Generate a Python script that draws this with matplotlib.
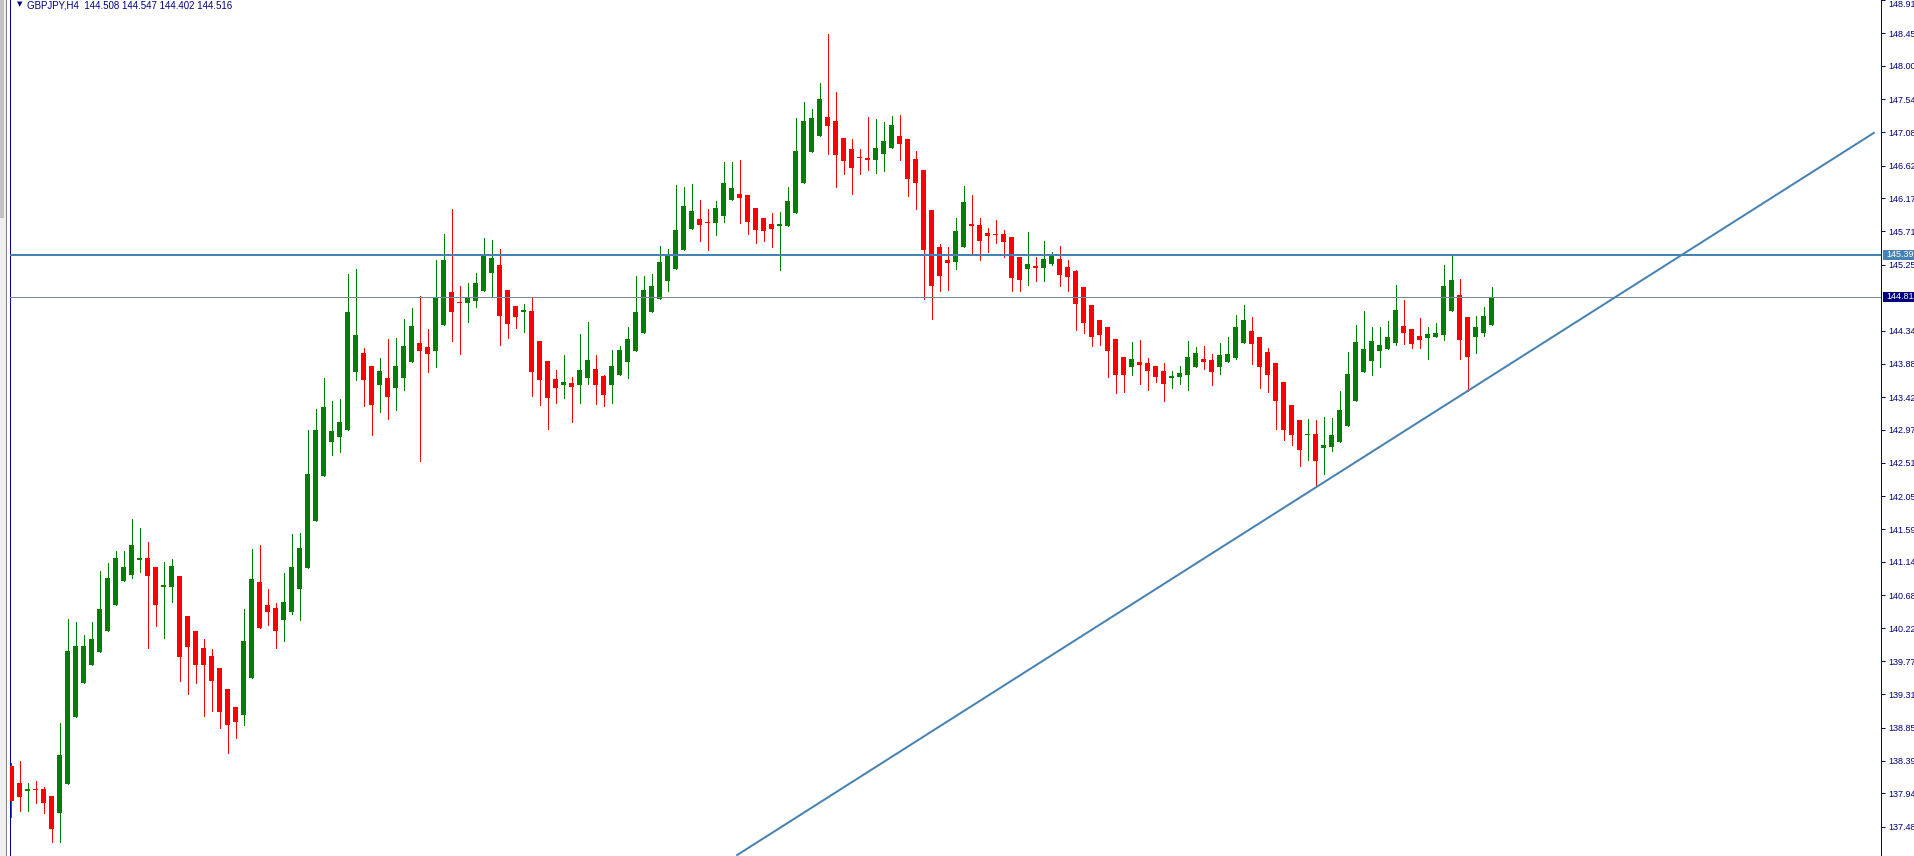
#!/usr/bin/env python3
import matplotlib
matplotlib.use("Agg")
import matplotlib.pyplot as plt
import matplotlib.transforms as mtransforms
from matplotlib.patches import Rectangle
import numpy as np

SYMBOL="GBPJPY,H4"
HEADER_OHLC="144.508 144.547 144.402 144.516"

# H4 candles, oldest first
OPEN=[138.32,138.08,137.97,138.00,138.00,137.90,137.67,138.07,138.99,139.47,139.72,139.89,140.19,140.55,140.87,140.96,141.17,141.19,141.07,140.80,
      140.80,140.95,140.39,140.19,139.95,139.84,139.67,139.38,139.13,139.03,139.53,140.86,140.54,140.50,140.34,140.45,140.76,141.05,141.70,142.33,
      142.80,142.87,142.97,143.77,144.03,143.85,143.58,143.68,143.55,143.69,143.91,144.17,144.11,144.06,144.42,144.87,144.73,144.72,144.75,144.88,
      145.14,145.25,144.90,144.68,144.59,144.61,144.20,143.92,143.67,143.59,143.61,143.59,143.69,143.81,143.71,143.59,143.72,143.90,144.05,144.31,
      144.60,144.78,145.03,145.19,145.46,145.75,145.88,145.84,145.83,145.93,146.15,146.23,146.21,146.03,145.90,145.81,145.78,145.79,145.96,146.38,
      146.81,147.03,147.29,147.24,147.00,146.85,146.73,146.73,146.70,146.78,146.87,147.03,146.99,146.71,146.56,146.01,145.50,145.31,145.29,145.50,
      145.81,145.80,145.69,145.67,145.67,145.63,145.36,145.19,145.23,145.20,145.26,145.33,145.22,145.16,144.94,144.69,144.49,144.39,144.22,143.97,
      143.84,143.90,143.89,143.85,143.78,143.69,143.70,143.72,143.84,143.95,143.93,143.84,143.91,143.96,144.17,144.33,144.25,144.04,143.89,143.63,
      143.31,143.10,142.89,142.91,142.72,142.73,142.80,143.02,143.37,143.77,143.92,144.06,144.09,144.17,144.40,144.36,144.26,144.24,144.25,144.28,
      144.61,144.83,144.53,144.25,144.31,144.42]
HIGH=[138.36,138.39,138.08,138.11,138.03,137.90,138.91,140.35,140.31,140.13,140.31,141.01,141.13,141.29,141.29,141.73,141.61,141.42,141.07,141.14,
      141.18,140.95,140.39,140.19,140.07,139.94,139.67,139.38,139.13,140.49,141.32,141.37,140.77,140.57,140.99,141.53,141.54,142.97,143.25,143.69,
      143.37,143.39,145.12,145.19,144.10,143.85,143.96,144.22,144.24,144.50,144.65,144.82,144.36,145.32,145.67,146.02,144.96,145.00,145.14,145.62,
      145.59,145.47,144.90,144.68,144.71,144.79,144.20,143.92,143.79,144.00,143.70,144.29,144.46,144.00,143.72,144.07,144.13,144.39,145.09,145.09,
      145.12,145.51,145.47,146.35,146.32,146.37,146.14,146.02,146.13,146.67,146.67,146.70,146.21,146.03,145.90,145.97,145.98,146.32,147.28,147.50,
      147.40,147.76,148.44,147.64,147.00,146.99,146.85,147.29,147.26,147.22,147.31,147.32,146.99,146.82,146.56,146.01,145.54,145.50,145.90,146.34,
      146.21,145.90,145.76,145.87,145.73,145.63,145.36,145.70,145.36,145.58,145.43,145.51,145.31,145.18,144.94,144.69,144.49,144.39,144.22,143.97,
      144.18,144.21,143.96,143.85,143.89,143.78,143.85,144.19,144.11,144.13,144.02,144.17,144.25,144.55,144.69,144.53,144.25,144.10,143.89,143.63,
      143.31,143.10,143.11,143.10,143.14,143.13,143.50,144.04,144.42,144.61,144.39,144.39,144.47,144.97,144.76,144.36,144.51,144.39,144.44,145.25,
      145.37,145.05,144.53,144.54,144.66,144.94]
LOW=[137.62,137.69,137.69,137.81,137.67,137.27,137.27,138.07,138.99,139.47,139.72,139.89,140.19,140.55,140.87,140.92,141.00,139.95,140.25,140.09,
     140.58,139.50,139.32,139.47,139.01,139.08,138.85,138.50,138.71,138.89,139.53,140.22,140.27,139.95,140.04,140.42,140.34,141.05,141.70,142.33,
     142.62,142.66,142.97,143.66,143.29,142.90,143.22,143.11,143.24,143.52,143.91,142.53,143.77,143.83,144.42,144.19,144.02,144.46,144.66,144.88,
     144.80,144.14,144.24,144.38,144.32,143.44,143.31,142.98,143.34,143.41,143.08,143.34,143.60,143.33,143.29,143.34,143.72,143.69,144.05,144.31,
     144.60,144.78,144.89,145.19,145.46,145.74,145.58,145.46,145.66,145.84,146.15,145.82,145.68,145.55,145.58,145.50,145.18,145.79,145.96,146.38,
     146.81,147.03,146.78,146.33,146.51,146.23,146.51,146.56,146.52,146.55,146.87,146.70,146.20,146.02,144.77,144.50,144.89,144.90,145.19,145.50,
     145.39,145.32,145.43,145.55,145.36,144.88,144.88,144.97,145.03,145.03,145.24,144.96,144.88,144.35,144.30,144.12,144.14,143.70,143.48,143.49,
     143.73,143.60,143.52,143.63,143.36,143.54,143.60,143.52,143.84,143.81,143.58,143.74,143.91,143.94,144.17,143.88,143.54,143.49,142.98,142.82,
     142.76,142.47,142.55,142.18,142.36,142.68,142.80,143.02,143.37,143.77,143.72,143.83,144.09,144.14,144.16,144.10,144.10,143.95,144.25,144.21,
     144.61,143.94,143.51,144.03,144.27,144.42]
CLOSE=[137.83,137.89,138.00,137.98,137.80,137.45,138.47,139.91,139.98,139.98,140.07,140.49,140.92,141.19,141.07,141.37,141.19,140.94,140.54,140.82,
       141.08,139.82,139.97,139.71,139.72,139.50,139.07,138.88,138.93,140.05,140.90,140.22,140.45,140.19,140.59,141.07,141.33,142.36,142.97,143.28,
       142.95,143.08,144.60,144.28,143.65,143.31,143.78,143.42,143.85,144.13,144.40,144.05,144.01,144.80,145.32,144.59,144.72,144.79,145.00,145.37,
       145.34,144.54,144.43,144.52,144.62,143.77,143.65,143.41,143.54,143.63,143.56,143.79,143.93,143.59,143.45,143.85,144.07,144.22,144.60,144.90,
       144.96,145.29,145.37,145.73,146.06,145.99,145.80,145.83,146.03,146.38,146.31,146.17,145.84,145.73,145.72,145.75,145.81,146.13,146.82,147.24,
       147.28,147.54,147.17,146.77,146.69,146.59,146.72,146.70,146.86,146.96,147.18,146.92,146.44,146.38,145.46,144.96,145.10,145.28,145.72,146.12,
       145.78,145.58,145.65,145.66,145.57,145.07,145.04,145.26,145.20,145.33,145.37,145.11,145.08,144.71,144.45,144.25,144.28,144.06,143.72,143.72,
       143.95,143.87,143.78,143.70,143.60,143.71,143.75,143.97,144.03,143.91,143.77,144.00,144.02,144.39,144.49,144.16,143.83,143.73,143.37,142.97,
       142.89,142.69,142.91,142.54,142.76,142.89,143.24,143.74,144.18,144.08,144.19,144.14,144.25,144.62,144.31,144.16,144.21,144.29,144.30,144.96,
       145.04,144.21,143.98,144.39,144.54,144.80]

RESISTANCE=145.39   # horizontal line
BID=144.81          # current price line
TREND_T=[90.6,232.9]        # trend line anchors (bar index)
TREND_P=[137.08,147.08]     # trend line anchors (price)
YTICKS=[148.91,148.45,148.00,147.54,147.08,146.62,146.17,145.71,145.25,144.34,143.88,143.42,142.97,142.51,
        142.05,141.59,141.14,140.68,140.22,139.77,139.31,138.85,138.39,137.94,137.48]

BULL="#008000"; BEAR="#ff0000"; NAVY="#000080"; STEEL="#4682b4"; GREY="#778899"
W,H=1915,856; PX=72/100  # one pixel in points
FS=6.5

fig=plt.figure(figsize=(W/100,H/100),dpi=100,facecolor="white")
# left scroll gutter
fig.patches.append(Rectangle((0,0),6/W,1,transform=fig.transFigure,facecolor="#f0f0f0",edgecolor="none"))
fig.patches.append(Rectangle((0,1-218/H),4/W,218/H,transform=fig.transFigure,facecolor="#c4c4c4",edgecolor="none"))
fig.add_artist(plt.Line2D([6.5/W,6.5/W],[0,1],transform=fig.transFigure,color="#808080",lw=PX))

ax=fig.add_axes([10/W,0,(1881.5-10)/W,1])
o,h,l,c=map(np.asarray,(OPEN,HIGH,LOW,CLOSE)); t=np.arange(len(o))
col=np.where(c>=o,BULL,BEAR)
ax.vlines(t,l,h,colors=col,lw=PX,antialiased=False,zorder=3)
ax.bar(t,np.maximum(np.abs(c-o),0.015),bottom=np.minimum(o,c),width=0.625,color=col,linewidth=0,antialiased=False,zorder=4)

ax.axhline(RESISTANCE,color=STEEL,lw=2*PX,zorder=5)
ax.axhline(BID,color=GREY,lw=PX,zorder=5)
ax.plot(TREND_T,TREND_P,color=STEEL,lw=2*PX,solid_capstyle="butt",zorder=5)

ax.set_xlim(-0.1875,233.75); ax.set_ylim(137.074,148.91)
ax.set_xticks([])
ax.yaxis.tick_right()
ax.set_yticks(YTICKS,[f"{v:.2f}" for v in YTICKS])
ax.tick_params(axis="y",direction="out",length=3,width=PX,color=NAVY,labelcolor=NAVY,labelsize=FS,pad=2)
for lab in ax.get_yticklabels():
    lab.set_fontfamily("Liberation Sans")
# top tick sits on the frame edge, keep its label inside the picture
ax.get_yticklabels()[0].set_verticalalignment("top")
for s in ("top","bottom"): ax.spines[s].set_visible(False)
ax.spines["left"].set_color("#0000a0"); ax.spines["left"].set_linewidth(PX)
ax.spines["right"].set_color(NAVY); ax.spines["right"].set_linewidth(PX)

# price tags on the right scale
tr=mtransforms.blended_transform_factory(ax.transAxes,ax.transData)
for p,fc in ((RESISTANCE,STEEL),(BID,NAVY)):
    ax.add_patch(Rectangle((1.0007,p-0.069),0.02,0.138,transform=tr,facecolor=fc,edgecolor="none",clip_on=False,zorder=6))
    ax.text(1+5/1871.5,p,f"{p:.2f}",transform=tr,color="white",fontsize=FS,family="Liberation Sans",va="center",ha="left",clip_on=False,zorder=7)

fig.text(17/W,1-1/H,"\u25bc",color=NAVY,fontsize=5,va="top")
fig.text(27/W,1-1/H,f"{SYMBOL}  {HEADER_OHLC}",color=NAVY,fontsize=7,family="Liberation Sans",va="top")

fig.savefig("out.png",dpi=100,facecolor="white")
